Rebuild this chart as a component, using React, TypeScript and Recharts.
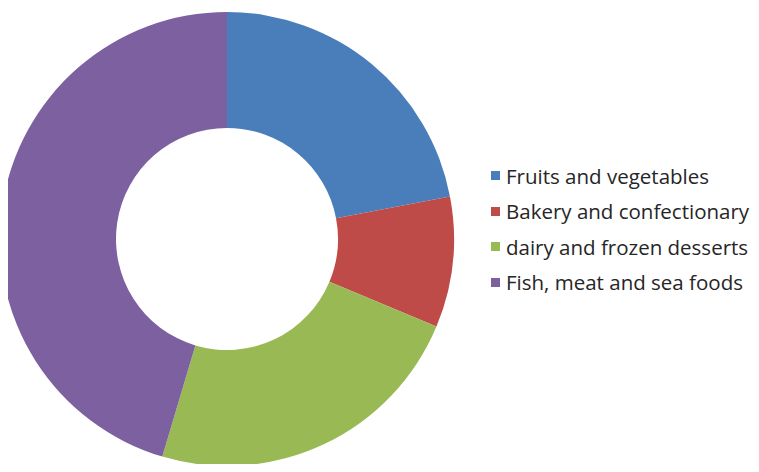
import { PieChart, Pie, Cell, Legend } from "recharts"

const categories = [
  "Fruits and vegetables",
  "Bakery and confectionary",
  "dairy and frozen desserts",
  "Fish, meat and sea foods",
]
const shares = [22, 9.3, 23.3, 45.4]
const colors = ["#4a7ebb", "#be4b48", "#98b954", "#7d60a0"]

const data = categories.map((name, i) => ({ name, value: shares[i] }))

function LegendList() {
  return (
    <div
      style={{
        fontFamily: "'Open Sans', sans-serif",
        fontSize: 20.5,
        color: "#262626",
        whiteSpace: "nowrap",
      }}
    >
      {data.map((d, i) => (
        <div key={d.name} style={{ display: "flex", alignItems: "center", height: 35.5 }}>
          <span style={{ width: 9, height: 9, background: colors[i], marginRight: 6, flexShrink: 0 }} />
          <span>{d.name}</span>
        </div>
      ))}
    </div>
  )
}

export default function App() {
  return (
    <div style={{ margin: -8, background: "#fff" }}>
      <PieChart width={759} height={472} margin={{ top: 0, right: 0, bottom: 0, left: 0 }}>
        <Pie
          data={data}
          dataKey="value"
          nameKey="name"
          cx={227}
          cy={239}
          innerRadius={111}
          outerRadius={227}
          startAngle={90}
          endAngle={-270}
          stroke="none"
          isAnimationActive={false}
        >
          {data.map((d, i) => (
            <Cell key={d.name} fill={colors[i]} />
          ))}
        </Pie>
        <Legend
          layout="vertical"
          align="right"
          verticalAlign="top"
          wrapperStyle={{ left: 491, top: 158, width: 268 }}
          content={() => <LegendList />}
        />
      </PieChart>
    </div>
  )
}
